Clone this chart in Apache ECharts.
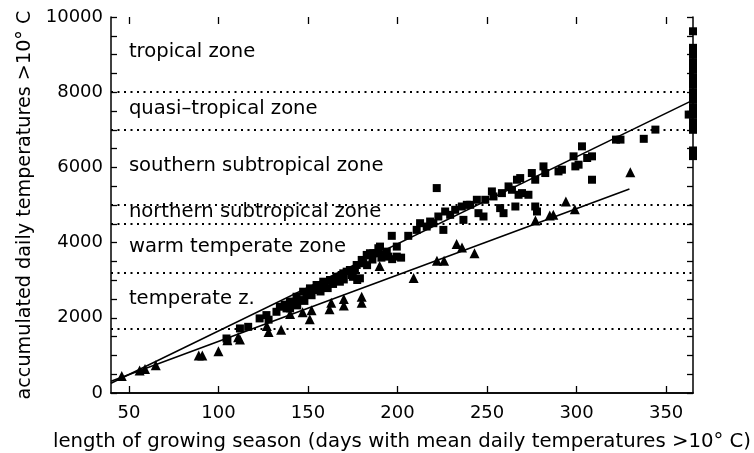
<!DOCTYPE html>
<html>
<head>
<meta charset="utf-8">
<script src="https://cdn.jsdelivr.net/npm/echarts@6/dist/echarts.min.js"></script>
<style>
  html, body { margin: 0; padding: 0; background: #fff; }
  #chart { width: 754px; height: 453px; }
</style>
</head>
<body>
<div id="chart"></div>
<script>
// Tick labels
const X_TICKS = [50, 100, 150, 200, 250, 300, 350];
const Y_TICKS = [0, 2000, 4000, 6000, 8000, 10000];
const X_MIN = 40, X_MAX = 365;

// Zone boundaries (dotted lines) and zone labels
const ZONE_LIMITS = [8000, 7000, 5000, 4500, 3200, 1700];
const ZONE_NAMES = ['tropical zone', 'quasi\u2013tropical zone', 'southern subtropical zone',
  'northern subtropical zone', 'warm temperate zone', 'temperate z.'];
const ZONE_LABEL_Y = [9060, 7560, 6050, 4810, 3880, 2500];

// Stations, squares: [days, accumulated temperature]
const SQUARES = [
  [104.5, 1450], [105, 1390], [112, 1717], [116.6, 1760], [123, 1984], [126.8, 2072], [128, 1950],
  [132.4, 2160], [134.3, 2294], [138, 2250], [139.9, 2427], [140, 2250], [141.7, 2427], [143.6, 2560],
  [145.5, 2472], [147.3, 2694], [149.2, 2650], [151.1, 2783], [153, 2739], [154.8, 2872], [155.7, 2827],
  [158.5, 2960], [159.4, 2872], [162.3, 3005], [166, 3094], [167.8, 2960], [168.8, 3139], [169.7, 3183],
  [171.6, 3227], [173.4, 3272], [174.4, 3139], [176.2, 3272], [177.2, 3405], [177.5, 3005], [179, 3050],
  [180, 3539], [180.9, 3450], [182.8, 3672], [184.6, 3717], [186.5, 3717], [188.4, 3717], [189.3, 3850],
  [190.2, 3894], [192.1, 3672], [194, 3760], [194.9, 3627], [196.8, 4180], [199.6, 3627], [199.6, 3894],
  [144, 2330], [148, 2450], [152, 2600], [157, 2700], [161, 2790], [164, 2900], [170, 3020],
  [175, 3090], [183, 3400], [186, 3550], [191, 3600], [197, 3560], [202, 3600], [137, 2350],
  [206, 4180], [210.7, 4338], [212.6, 4516], [216.3, 4427], [218.2, 4560], [220, 4516], [221.9, 5450],
  [222.8, 4694], [225.6, 4338], [226.6, 4827], [229.4, 4739], [232.2, 4872], [235.9, 4960], [236.8, 4605],
  [238.7, 5005], [240.6, 5005], [244.3, 5139], [245.2, 4783], [248, 4694], [249, 5139], [252.7, 5361],
  [253.6, 5227], [257.3, 4917], [258.3, 5316], [259.2, 4783], [262, 5494], [263.9, 5405], [265.8, 4960],
  [266.7, 5672], [267.6, 5272], [268.5, 5716], [269.5, 5316], [273.1, 5272], [275, 5850], [276.9, 5672],
  [276.9, 4960], [277.9, 4827], [281.5, 6027], [282.5, 5850], [289.9, 5894], [291.8, 5939], [298.3, 6294],
  [299.3, 6027], [301.1, 6072], [303, 6560], [305.9, 6250], [308.6, 6294], [308.6, 5672], [322, 6739],
  [324.5, 6739], [337.5, 6760], [344, 7005], [362.6, 7405],
  [365, 9620], [365, 9180], [365, 9000], [365, 8800], [365, 8600], [365, 8400], [365, 8200], [365, 8000],
  [365, 7800], [365, 7600], [365, 7400], [365, 7200], [365, 7000], [365, 6450], [365, 6300]
];

// Stations, triangles: [days, accumulated temperature]
const TRIANGLES = [
  [46, 450], [56, 600], [59, 640], [65, 740], [89, 1000], [91, 1000], [100, 1110], [105, 1400],
  [111, 1480], [112, 1420], [127, 1780], [128, 1620], [135, 1680], [140, 2100], [147, 2150],
  [151, 1960], [152, 2200], [162, 2230], [163, 2400], [170, 2330], [170, 2500], [180, 2400],
  [180, 2560], [190, 3380], [209, 3060], [222, 3520], [226, 3520], [233, 3960], [236, 3870],
  [243, 3720], [277, 4590], [285, 4720], [287, 4740], [294, 5090], [299, 4890], [330, 5870]
];

// Regression lines
const FIT_SQUARES = [[40, 260], [365, 7790]];
const FIT_TRIANGLES = [[40, 315], [329.5, 5424]];

// one category per day, only used to place the x ticks at 50, 100, ...
const DAY_SLOTS = [];
for (let d = X_MIN; d <= X_MAX; d++) DAY_SLOTS.push(String(d));

const FONT = 'DejaVu Sans';
const chart = echarts.init(document.getElementById('chart'), null, { renderer: 'canvas' });

const tickStyle = { color: '#000', width: 1.3 };
const valueX = {
  type: 'value', min: X_MIN, max: X_MAX,
  axisLine: { show: true, lineStyle: { color: '#000', width: 1.5 } },
  axisTick: { show: false },
  splitLine: { show: false },
};
const tickX = {
  type: 'category', data: DAY_SLOTS, boundaryGap: false,
  axisLine: { show: false },
  axisLabel: { show: false },
  axisTick: { show: true, inside: true, length: 7, lineStyle: tickStyle,
    interval: (i, v) => X_TICKS.includes(Number(v)) },
  splitLine: { show: false },
};
const baseY = {
  type: 'value', min: 0, max: 10000, interval: 500,
  axisLine: { show: true, lineStyle: { color: '#000', width: 1.5 } },
  axisTick: { show: true, inside: true, length: 6, lineStyle: tickStyle },
  splitLine: { show: false },
};

chart.setOption({
  animation: false,
  grid: { left: 111, right: 61, top: 17, bottom: 60, outerBoundsMode: 'none', containLabel: false },
  xAxis: [
    {
      ...valueX, position: 'bottom',
      axisLabel: { customValues: X_TICKS, color: '#000', fontFamily: FONT, fontSize: 18, margin: 11 },
      name: 'length of growing season (days with mean daily temperatures >10\u00b0 C)',
      nameLocation: 'middle', nameGap: 39,
      nameTextStyle: { color: '#000', fontFamily: FONT, fontSize: 19.7 },
    },
    { ...valueX, position: 'top', axisLabel: { show: false } },
    { ...tickX, position: 'bottom' },
    { ...tickX, position: 'top' },
  ],
  yAxis: [
    {
      ...baseY, position: 'left',
      axisLabel: {
        customValues: Y_TICKS, formatter: v => String(v),
        color: '#000', fontFamily: FONT, fontSize: 18, margin: 8,
      },
      name: 'accumulated daily temperatures >10\u00b0 C',
      nameLocation: 'middle', nameGap: 69,
      nameTextStyle: { color: '#000', fontFamily: FONT, fontSize: 19.2 },
    },
    { ...baseY, position: 'right', axisLabel: { show: false } },
  ],
  series: [
    {
      type: 'line', data: [], silent: true,
      markLine: {
        silent: true, symbol: 'none', label: { show: false },
        lineStyle: { color: '#000', width: 2, type: [2, 4.5], opacity: 1 },
        data: ZONE_LIMITS.map(v => ({ yAxis: v })),
      },
    },
    {
      type: 'scatter', symbolSize: 0, silent: true,
      itemStyle: { opacity: 1 },
      data: ZONE_NAMES.map((n, i) => [50, ZONE_LABEL_Y[i], n]),
      label: {
        show: true, position: 'right', distance: 0, formatter: p => p.data[2],
        color: '#000', opacity: 1, fontFamily: FONT, fontSize: 19.6,
      },
    },
    {
      type: 'line', data: FIT_SQUARES, showSymbol: false, silent: true,
      lineStyle: { color: '#000', width: 1.6 },
    },
    {
      type: 'line', data: FIT_TRIANGLES, showSymbol: false, silent: true,
      lineStyle: { color: '#000', width: 1.6 },
    },
    {
      type: 'scatter', data: SQUARES, symbol: 'rect', symbolSize: 8,
      itemStyle: { color: '#000', opacity: 1 },
    },
    {
      type: 'scatter', data: TRIANGLES, symbol: 'triangle', symbolSize: [10, 10],
      itemStyle: { color: '#000', opacity: 1 },
    },
  ],
});
</script>
</body>
</html>
